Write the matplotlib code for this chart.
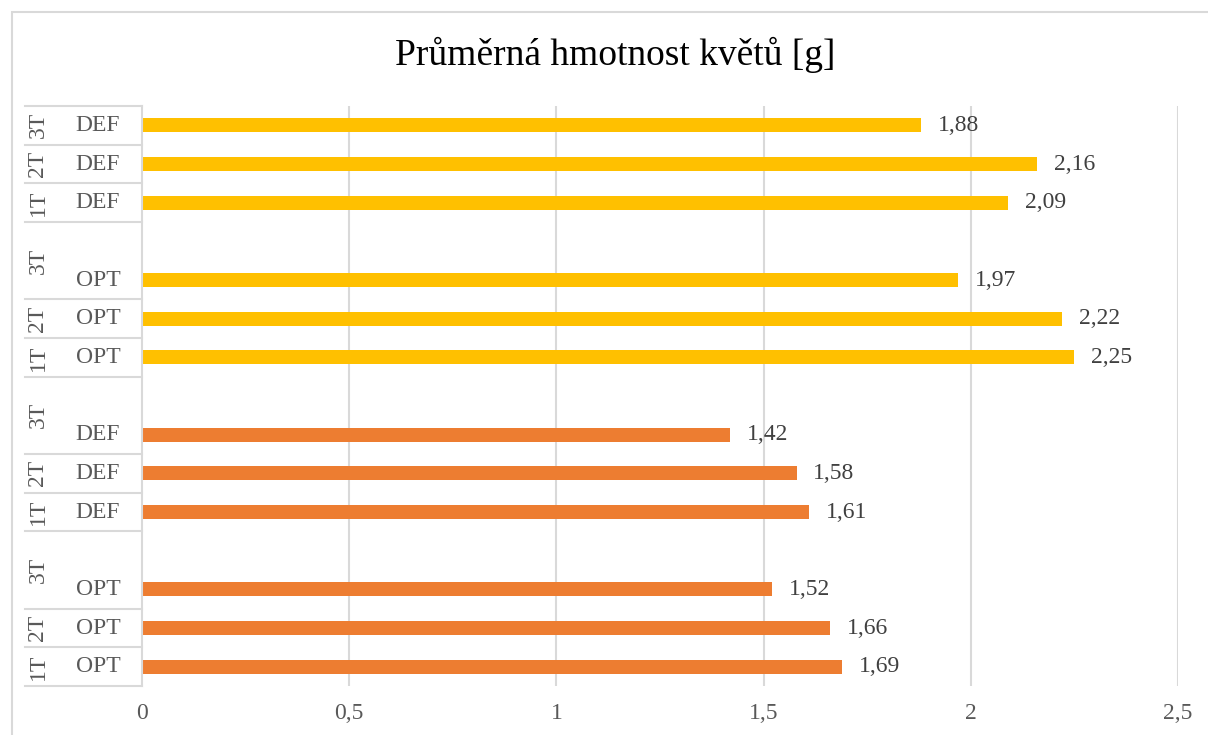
import numpy as np
import matplotlib.pyplot as plt
from matplotlib.patches import Rectangle
from matplotlib.transforms import blended_transform_factory

plt.rcParams['font.family'] = ['Liberation Serif', 'DejaVu Serif']

# data, bottom row first (Excel order); '' = spacer row
outer = ['1T', '2T', '3T', '3T', '1T', '2T', '3T', '3T',
         '1T', '2T', '3T', '3T', '1T', '2T', '3T']
inner = ['OPT', 'OPT', 'OPT', '', 'DEF', 'DEF', 'DEF', '',
         'OPT', 'OPT', 'OPT', '', 'DEF', 'DEF', 'DEF']
values = [1.69, 1.66, 1.52, None, 1.61, 1.58, 1.42, None,
          2.25, 2.22, 1.97, None, 2.09, 2.16, 1.88]
labels = ['1,69', '1,66', '1,52', '', '1,61', '1,58', '1,42', '',
          '2,25', '2,22', '1,97', '', '2,09', '2,16', '1,88']
orange = '#ED7D31'
yellow = '#FFC000'
xticks = [0, 0.5, 1, 1.5, 2, 2.5]
xticklabels = ['0', '0,5', '1', '1,5', '2', '2,5']

W, H = 1208, 735
fig = plt.figure(figsize=(W / 100, H / 100), dpi=100)
ax = fig.add_axes([142 / W, 1 - 686 / H, (1178 - 142) / W, (686 - 106) / H])

grid_c = '#D9D9D9'
text_c = '#595959'

# outer chart border (cropped on the right and bottom)
fig.patches.append(Rectangle((11.5 / W, -0.2), 1.5, 1 - 12 / H + 0.2,
                             transform=fig.transFigure, fill=False,
                             edgecolor=grid_c, linewidth=1.5))

y = np.arange(len(values))
for i, v in enumerate(values):
    if v is None:
        continue
    c = orange if i < 7 else yellow
    ax.barh(i, v, height=0.36, color=c)
    ax.annotate(labels[i], (v, i), xytext=(12, 0), textcoords='offset points',
                va='center', ha='left', fontsize=17, color='#404040')

ax.set_xlim(0, 2.5)
ax.set_ylim(-0.5, len(values) - 0.5)
ax.set_xticks(xticks)
ax.set_xticklabels(xticklabels, fontsize=17, color=text_c)
ax.tick_params(axis='x', length=0, pad=12)
ax.set_yticks([])
for x in xticks[1:]:
    ax.axvline(x, color=grid_c, linewidth=1.5, zorder=0)
for s in ['top', 'right', 'bottom']:
    ax.spines[s].set_visible(False)
ax.spines['left'].set_color(grid_c)
ax.spines['left'].set_linewidth(1.5)

# multi-level category table
tr = blended_transform_factory(ax.transAxes, ax.transData)
x_left = (25 - 142) / (1178 - 142)
x_inner = (98 - 142) / (1178 - 142)
x_outer = (38 - 142) / (1178 - 142)
bounds = [-0.5]
for i in range(len(outer)):
    if i == len(outer) - 1 or outer[i + 1] != outer[i] or inner[i + 1] != '':
        bounds.append(i + 0.5)
for b in bounds:
    ax.plot([x_left, 0], [b, b], color=grid_c, linewidth=1.5,
            transform=tr, clip_on=False)
for i in range(len(inner)):
    if inner[i]:
        ax.text(x_inner, i, inner[i], transform=tr, ha='center', va='center',
                fontsize=17, color=text_c)
for lo, hi in zip(bounds[:-1], bounds[1:]):
    idx = int(lo + 0.5)
    ax.text(x_outer, (lo + hi) / 2, outer[idx], transform=tr, rotation=90,
            ha='center', va='center', fontsize=17, color=text_c)

fig.text(615 / W, 1 - 55 / H, 'Průměrná hmotnost květů [g]',
         ha='center', va='center', fontsize=27, color='black')

fig.savefig('out.png', dpi=100)
